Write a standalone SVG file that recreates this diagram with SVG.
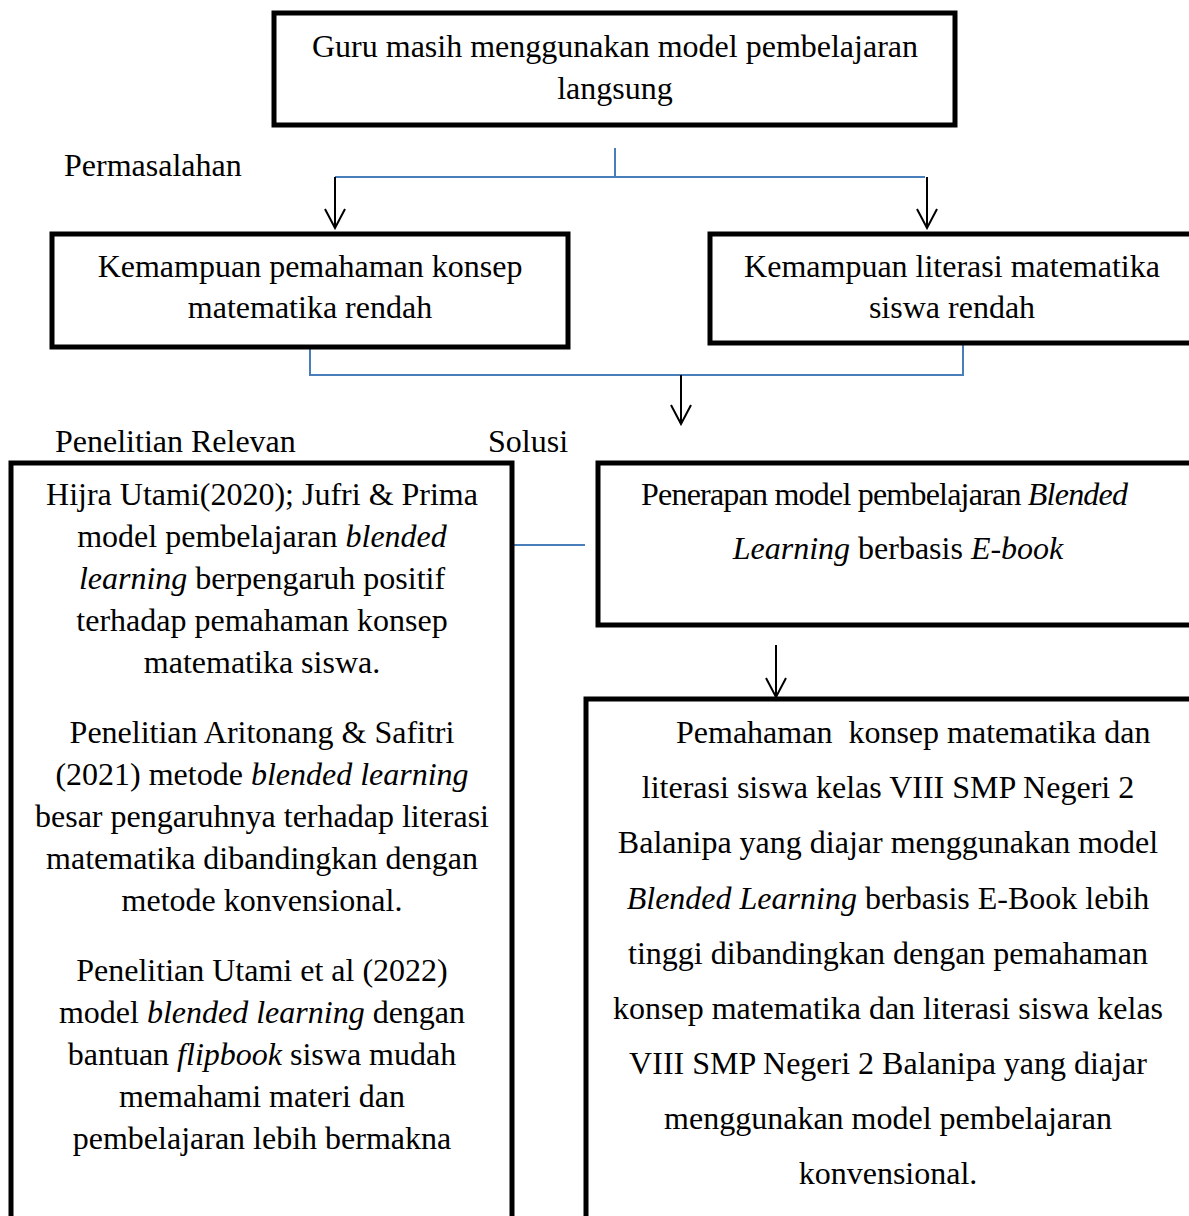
<svg xmlns="http://www.w3.org/2000/svg" width="1189" height="1216" viewBox="0 0 1189 1216">
<defs>
<marker id="arr" markerWidth="24" markerHeight="24" refX="22" refY="12" orient="auto" markerUnits="userSpaceOnUse" viewBox="0 0 24 24">
<polyline points="3,2 22,12 3,22" fill="none" stroke="#000" stroke-width="2"/>
</marker>
</defs>
<style>
.box{fill:#fff;stroke:#000;stroke-width:5}
.t{font-family:"Liberation Serif","Times New Roman",serif;font-size:32px;fill:#000}
.c{text-anchor:middle}
.blue{fill:none;stroke:#4a7ebb;stroke-width:2}
.arrow{fill:none;stroke:#000;stroke-width:2;marker-end:url(#arr)}
</style>
<rect width="1189" height="1216" fill="#fff"/>
<g id="connectors">
<polyline class="blue" points="615,148 615,177"/>
<polyline class="blue" points="335,177 925,177"/>
<line class="arrow" x1="335" y1="177" x2="335" y2="228"/>
<line class="arrow" x1="927" y1="177" x2="927" y2="228"/>
<polyline class="blue" points="310,349 310,375 963,375 963,345"/>
<line class="arrow" x1="681" y1="375" x2="681" y2="424"/>
<line class="blue" x1="514" y1="545" x2="585" y2="545"/>
<line class="arrow" x1="776" y1="645" x2="776" y2="697"/>
</g>
<g id="node-guru">
<rect class="box" x="274" y="13" width="681" height="112"/>
<text class="t c" x="615" y="57">Guru masih menggunakan model pembelajaran</text>
<text class="t c" x="615" y="99">langsung</text>
</g>
<g id="label-permasalahan">
<text class="t" x="64" y="176">Permasalahan</text>
</g>
<g id="node-pemahaman">
<rect class="box" x="52" y="234" width="516" height="113"/>
<text class="t c" x="310" y="277">Kemampuan pemahaman konsep</text>
<text class="t c" x="310" y="318">matematika rendah</text>
</g>
<g id="node-literasi">
<rect class="box" x="710" y="234" width="490" height="109"/>
<text class="t c" x="952" y="277">Kemampuan literasi matematika</text>
<text class="t c" x="952" y="318">siswa rendah</text>
</g>
<g id="label-relevan">
<text class="t" x="55" y="452">Penelitian Relevan</text>
</g>
<g id="label-solusi">
<text class="t" x="488" y="452">Solusi</text>
</g>
<g id="node-penelitian">
<rect class="box" x="11" y="463" width="501" height="780"/>
<text class="t c" x="262" y="505">Hijra Utami(2020); Jufri &amp; Prima</text>
<text class="t c" x="262" y="547">model pembelajaran <tspan font-style="italic">blended</tspan></text>
<text class="t c" x="262" y="589"><tspan font-style="italic">learning</tspan> berpengaruh positif</text>
<text class="t c" x="262" y="631">terhadap pemahaman konsep</text>
<text class="t c" x="262" y="673">matematika siswa.</text>
<text class="t c" x="262" y="743">Penelitian Aritonang &amp; Safitri</text>
<text class="t c" x="262" y="785">(2021) metode <tspan font-style="italic">blended learning</tspan></text>
<text class="t c" x="262" y="827">besar pengaruhnya terhadap literasi</text>
<text class="t c" x="262" y="869">matematika dibandingkan dengan</text>
<text class="t c" x="262" y="911">metode konvensional.</text>
<text class="t c" x="262" y="981">Penelitian Utami et al (2022)</text>
<text class="t c" x="262" y="1023">model <tspan font-style="italic">blended learning</tspan> dengan</text>
<text class="t c" x="262" y="1065">bantuan <tspan font-style="italic">flipbook</tspan> siswa mudah</text>
<text class="t c" x="262" y="1107">memahami materi dan</text>
<text class="t c" x="262" y="1149">pembelajaran lebih bermakna</text>
</g>
<g id="node-solusi">
<rect class="box" x="598" y="463" width="602" height="162"/>
<text class="t" x="641" y="505" textLength="487" lengthAdjust="spacing">Penerapan model pembelajaran <tspan font-style="italic">Blended</tspan></text>
<text class="t c" x="898" y="559"><tspan font-style="italic">Learning</tspan> berbasis <tspan font-style="italic">E-book</tspan></text>
</g>
<g id="node-hasil">
<rect class="box" x="586" y="699" width="614" height="540"/>
<text class="t" x="676" y="743" style="white-space:pre">Pemahaman  konsep matematika dan</text>
<text class="t c" x="888" y="798">literasi siswa kelas VIII SMP Negeri 2</text>
<text class="t c" x="888" y="853">Balanipa yang diajar menggunakan model</text>
<text class="t c" x="888" y="909"><tspan font-style="italic">Blended Learning</tspan> berbasis E-Book lebih</text>
<text class="t c" x="888" y="964">tinggi dibandingkan dengan pemahaman</text>
<text class="t c" x="888" y="1019">konsep matematika dan literasi siswa kelas</text>
<text class="t c" x="888" y="1074">VIII SMP Negeri 2 Balanipa yang diajar</text>
<text class="t c" x="888" y="1129">menggunakan model pembelajaran</text>
<text class="t c" x="888" y="1184">konvensional.</text>
</g>
</svg>
